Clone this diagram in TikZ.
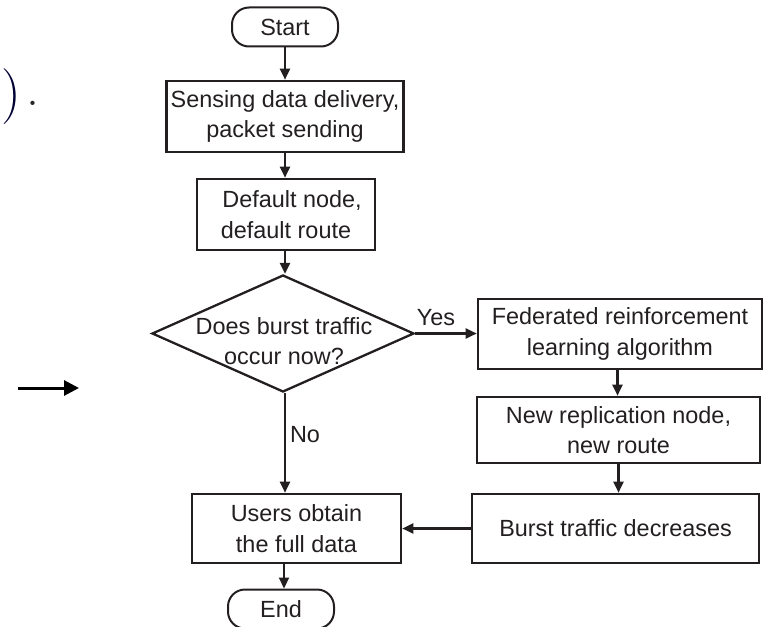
\documentclass[tikz,border=0pt]{standalone}
\usepackage{fontspec}
\setmainfont{Liberation Sans}
\newfontfamily\lmfont{Latin Modern Roman}
\usetikzlibrary{shapes.geometric,arrows.meta}
\definecolor{ink}{RGB}{35,31,32}
\tikzset{
  every node/.style={text=ink},
  boxnode/.style={draw=ink, line width=2.6bp, rectangle, inner sep=0pt, align=center,
    font=\fontsize{23.5}{30.5}\selectfont},
  termnode/.style={draw=ink, line width=2bp, rectangle, rounded corners=17bp, inner sep=0pt,
    minimum width=106bp, minimum height=39bp, font=\fontsize{23.5}{30}\selectfont},
  decnode/.style={draw=ink, line width=2.3bp, diamond, inner sep=0pt},
  lbl/.style={font=\fontsize{23.5}{30}\selectfont, inner sep=0pt, align=center},
  flow/.style={draw=ink, line width=2.2bp, -{Triangle[length=11bp,width=10bp]}},
}
\begin{document}
\begin{tikzpicture}[x=1bp,y=-1bp]
\useasboundingbox (0,0) rectangle (766,627);
% stray fragments
\node[inner sep=0pt, font=\lmfont\fontsize{56}{56}\selectfont, text=black!80!blue] (paren) at (11.5,97) {)};
\node[inner sep=0pt, font=\lmfont\fontsize{52}{52}\selectfont, text=black!85] (dot) at (33,103) {.};
\coordinate (sa) at (18,388);
\coordinate (sb) at (79,388);
\draw[line width=3bp, -{Triangle[length=15bp,width=15bp]}] (sa) -- (sb);
% nodes
\node[termnode] (start) at (285,27) {Start};
\node[boxnode, minimum width=237bp, minimum height=71bp] (b1) at (285,116.5) {Sensing data delivery,\\packet sending};
\node[boxnode, minimum width=178bp, minimum height=71bp] (b2) at (286,214.5) {\hspace*{12bp}Default node,\\default route};
\node[decnode, minimum width=262bp, minimum height=117bp] (dec) at (283,333.5) {};
\node[lbl] (dtext) at (284,341) {Does burst traffic\\occur now?};
\node[boxnode, minimum width=284bp, minimum height=70bp] (frl) at (620,334) {Federated reinforcement\\learning algorithm};
\node[boxnode, minimum width=283bp, minimum height=66bp] (nr) at (618.5,430) {New replication node,\\new route};
\node[boxnode, minimum width=287bp, minimum height=69bp] (bd) at (615.5,528.5) {Burst traffic decreases};
\node[boxnode, minimum width=209bp, minimum height=69bp] (us) at (296.5,528.5) {Users obtain\\the full data};
\node[termnode] (end) at (281,609) {End};
\node[lbl] (yes) at (436,318) {Yes};
\node[lbl] (no) at (305,435) {No};
% connectors
\draw[flow] (start.south) -- (b1.north -| start.south);
\draw[flow] (b1.south -| start.south) -- (b2.north -| start.south);
\draw[flow] (b2.south -| start.south) -- (dec.north -| start.south);
\draw[flow] (dec.east) -- (frl.west |- dec.east);
\draw[flow] (frl.south -| nr.north) ++(-1,0) -- ([xshift=-1bp]nr.north);
\draw[flow] (nr.south) -- (bd.north -| nr.south);
\draw[flow] (bd.west) -- (us.east);
\draw[flow] (dec.south -| start.south) -- (us.north -| start.south);
\draw[flow] (us.south -| 284,0) -- (end.north -| 284,0);
\end{tikzpicture}
\end{document}
